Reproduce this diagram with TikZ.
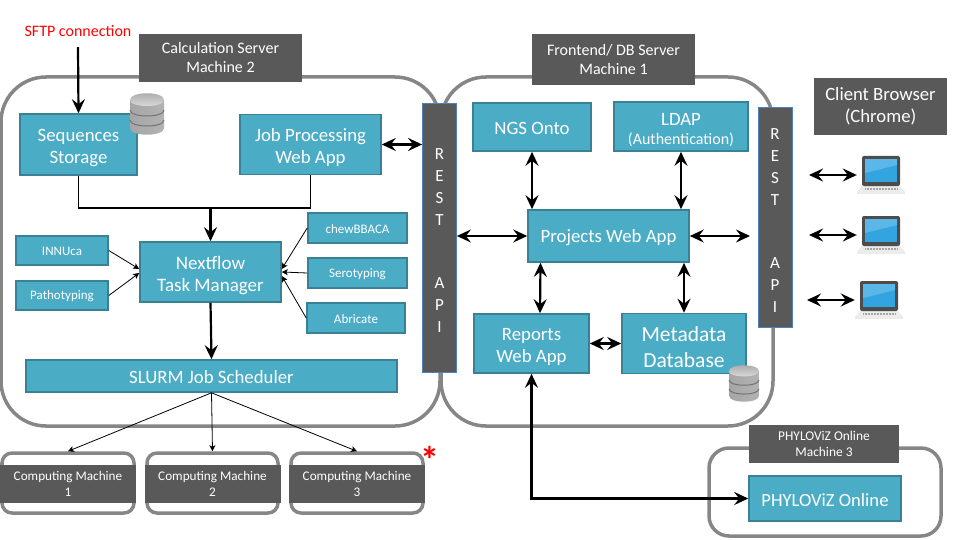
\documentclass[tikz,border=0pt]{standalone}
\usepackage{fontspec}
\setmainfont{Carlito}
\usepackage{xcolor}
\usetikzlibrary{arrows.meta}
\definecolor{boxfill}{RGB}{75,172,198}
\definecolor{boxedge}{RGB}{58,128,150}
\definecolor{labeldark}{RGB}{89,89,89}
\definecolor{frameline}{RGB}{134,134,134}
\definecolor{restedge}{RGB}{79,129,189}
\definecolor{screenblue}{RGB}{50,165,225}
\newcommand{\toplift}{\rule{0pt}{1.05em}}
\tikzset{
  dbstack/.pic={
    \shade [left color=gray!70, middle color=gray!15, right color=gray!60] (-17,-14) -- (-17,14) .. controls (-17,23) and (17,23) .. (17,14) -- (17,-14) -- cycle;
    \foreach \ypos in {-4,6}
      \draw [gray!90!black, line width=1pt] (-17,\ypos) .. controls (-17,\ypos+8) and (17,\ypos+8) .. (17,\ypos);
    \shade [top color=gray!70, bottom color=gray!25] (-17,-14) .. controls (-17,-23) and (17,-23) .. (17,-14) .. controls (17,-6) and (-17,-6) .. (-17,-14) -- cycle;
  },
  laptopicon/.pic={
    \fill [gray!15] (-19,11) -- (19,11) -- (24,17) -- (24,19) -- (-24,19) -- (-24,17) -- cycle;
    \draw [gray!70, line width=1.5pt, dash pattern=on 1pt off 0.5pt] (-16,14) -- (16,14);
    \fill [labeldark!85!black, rounded corners=2pt] (-19,-19) rectangle (19,11);
    \fill [screenblue] (-16,-16) rectangle (16,7);
    \fill [white, opacity=0.2] (-16,-16) -- (16,-16) -- (16,-10) -- (-16,-2) -- cycle;
  }
}
\begin{document}
\begin{tikzpicture}[x=1pt, y=-1pt, node distance=50pt, >=Stealth]
    \tikzstyle{tealbox} = [rectangle, draw=boxedge, fill=boxfill, line width=1.6pt, text=white, align=center, inner sep=0pt, font=\fontsize{18.8}{22}\selectfont, execute at begin node={\rule{0pt}{0.85em}}]
    \tikzstyle{smallbox} = [tealbox, minimum width=98pt, minimum height=29pt, font=\fontsize{13}{16}\selectfont]
    \tikzstyle{darklabel} = [rectangle, fill=labeldark, text=white, align=center, inner sep=0pt, font=\fontsize{16}{19}\selectfont]
    \tikzstyle{restbar} = [rectangle, draw=restedge, fill=labeldark, line width=0.8pt, text=white, align=center, inner sep=0pt, minimum width=34pt, font=\fontsize{17}{22}\selectfont]
    \tikzstyle{frame} = [rectangle, draw=frameline, line width=3.5pt, inner sep=0pt]
    \tikzstyle{heavy} = [<->, >={Stealth[length=14pt,width=13pt,inset=5pt]}, line width=2.2pt]
    \tikzstyle{heavyin} = [->, >={Stealth[length=14pt,width=13pt,inset=5pt]}, line width=2.2pt]
    \tikzstyle{fine} = [->, >={Stealth[length=6pt,width=6pt,inset=1.5pt]}, line width=0.8pt]
    \useasboundingbox (0,0) rectangle (960,540);

    % Machine frames
    \node [frame, rounded corners=45pt, minimum width=439pt, minimum height=349pt] (calc_frame) at (220.5,251.5) {};
    \node [frame, rounded corners=45pt, minimum width=332pt, minimum height=349pt] (front_frame) at (607,251.5) {};
    \node [frame, rounded corners=20pt, minimum width=232pt, minimum height=88pt] (phylo_frame) at (825,492) {};
    \node [frame, rounded corners=10pt, minimum width=132pt, minimum height=60pt] (comp_frame1) at (68,483) {};
    \node [frame, rounded corners=10pt, minimum width=131pt, minimum height=60pt] (comp_frame2) at (212.5,483) {};
    \node [frame, rounded corners=10pt, minimum width=132pt, minimum height=60pt] (comp_frame3) at (357,483) {};

    % Machine labels
    \node [darklabel, minimum width=163pt, minimum height=48pt] (calc_label) at (220.5,58) {Calculation Server\\Machine 2};
    \node [darklabel, minimum width=163pt, minimum height=51pt] (front_label) at (613.5,59.5) {Frontend/ DB Server\\Machine 1};
    \node [darklabel, minimum width=133pt, minimum height=57pt, font=\fontsize{18.7}{22}\selectfont] (client_label) at (880.5,106.5) {Client Browser\\(Chrome)};
    \node [darklabel, minimum width=150pt, minimum height=38pt, font=\fontsize{13.4}{16}\selectfont] (phylo_label) at (824,444) {PHYLOViZ Online\\Machine 3};
    \node [darklabel, minimum width=136pt, minimum height=38pt, font=\fontsize{13.2}{16}\selectfont] (comp_label1) at (68,484) {Computing Machine\\1};
    \node [darklabel, minimum width=136pt, minimum height=38pt, font=\fontsize{13.2}{16}\selectfont] (comp_label2) at (212.5,484) {Computing Machine\\2};
    \node [darklabel, minimum width=136pt, minimum height=38pt, font=\fontsize{13.2}{16}\selectfont] (comp_label3) at (357,484) {Computing Machine\\3};

    % Calculation server
    \node [text=red, font=\fontsize{16}{18}\selectfont] (sftp) at (78,31) {SFTP connection};
    \node [tealbox, minimum width=117pt, minimum height=61pt] (seq_storage) at (78.5,144.5) {\toplift Sequences\\Storage};
    \node [tealbox, minimum width=141pt, minimum height=60pt, right of=seq_storage, xshift=182pt] (job_app) {\toplift Job Processing\\Web App};
    \node [tealbox, minimum width=141pt, minimum height=60pt, font=\fontsize{19}{22}\selectfont] (nextflow) at (210.5,272) {\toplift Nextflow\\Task Manager};
    \node [smallbox, minimum width=92pt] (innuca) at (62,250.5) {INNUca};
    \node [smallbox, minimum width=92pt, below of=innuca, yshift=5pt] (patho) {Pathotyping};
    \node [smallbox, minimum width=99pt, minimum height=30pt] (chewie) at (357.5,228) {chewBBACA};
    \node [smallbox, minimum width=99pt, minimum height=30pt, below of=chewie, yshift=5pt] (sero) {Serotyping};
    \node [smallbox, minimum height=30pt, below of=sero, yshift=5pt, xshift=-1.5pt] (abricate) {Abricate};
    \node [tealbox, minimum width=371pt, minimum height=32pt] (slurm) at (211.5,376) {SLURM Job Scheduler};
    \node [restbar, minimum height=269pt] (rest_calc) at (439.5,237.5) {\toplift R\\E\\S\\T\\[-1.5pt]~\\[-1.5pt]~\\A\\P\\I};

    % Frontend server
    \node [tealbox, minimum width=118pt, minimum height=48pt] (ngs_onto) at (532,127) {NGS Onto};
    \node [tealbox, minimum width=134pt, minimum height=49pt, right of=ngs_onto, xshift=99pt, yshift=0.5pt] (ldap) {\toplift LDAP\\[-3pt]{\fontsize{16}{17}\selectfont (Authentication)}};
    \node [tealbox, minimum width=161pt, minimum height=52pt] (projects) at (608.5,236) {Projects Web App};
    \node [tealbox, minimum width=115pt, minimum height=59pt] (reports) at (531.5,343.5) {\toplift Reports\\Web App};
    \node [tealbox, minimum width=124pt, minimum height=60pt, right of=reports, xshift=102.5pt, font=\fontsize{21.5}{26}\selectfont] (metadata) {\toplift Metadata\\Database};
    \node [restbar, minimum height=220pt] (rest_front) at (775,217) {\toplift R\\E\\S\\T\\[-1.5pt]~\\[-1.5pt]~\\A\\P\\I};
    \node [tealbox, minimum width=152pt, minimum height=45pt, font=\fontsize{18.6}{22}\selectfont] (phyloviz) at (825,498.5) {PHYLOViZ Online};

    % Database icons
    \pic at (147,114) {dbstack};
    \pic [scale=0.88] at (744,383.5) {dbstack};

    % Client laptops
    \node [minimum width=48pt, minimum height=38pt, inner sep=0pt] (laptop1) at (881,175) {};
    \node [minimum width=48pt, minimum height=38pt, inner sep=0pt] (laptop2) at (881,235) {};
    \node [minimum width=48pt, minimum height=38pt, inner sep=0pt] (laptop3) at (879,300) {};
    \pic at (laptop1) {laptopicon};
    \pic at (laptop2) {laptopicon};
    \pic at (laptop3) {laptopicon};
    \coordinate (client1) at (809,175);
    \coordinate (client2) at (809,235);
    \coordinate (client3) at (807,300);
    \coordinate (rest_in) at (750,236);
    \coordinate (merge) at (210.5,208);

    % Extra machine marker
    \node [text=red, font=\fontsize{38}{38}\bfseries\selectfont, inner sep=0pt] (star) at (430,460) {*};

    % Arrows in the calculation server
    \draw [heavyin] ([yshift=-7pt]sftp.south) -- (seq_storage.north);
    \draw [line width=1.8pt] (seq_storage.south) |- (merge) -| (job_app.south);
    \draw [heavyin] (merge) -- (nextflow.north);
    \draw [heavyin] (nextflow.south) -- (slurm.north);
    \draw [fine] (innuca.east) -- ([yshift=3pt]nextflow.west);
    \draw [fine] (patho.east) -- ([yshift=-1pt]nextflow.west);
    \draw [fine] (chewie.west) -- ([yshift=3pt]nextflow.east);
    \draw [fine] (sero.west) -- (nextflow.east);
    \draw [fine] (abricate.west) -- ([yshift=-4pt]nextflow.east);
    \draw [fine] (slurm.south) -- (comp_frame1.north);
    \draw [fine] (slurm.south) -- (comp_frame2.north);
    \draw [fine] (slurm.south) -- (comp_frame3.north);
    \draw [heavy] (job_app.east) -- (job_app.east -| rest_calc.west);

    % Arrows in the frontend server
    \draw [heavy] (projects.west -| rest_calc.east) -- (projects.west);
    \draw [heavy] (projects.east) -- (rest_in);
    \draw [heavy] (ngs_onto.south) -- (ngs_onto.south |- projects.north);
    \draw [heavy] (ldap.south) -- (ldap.south |- projects.north);
    \draw [heavy] ([xshift=-68pt]projects.south) -- ([xshift=8.5pt]reports.north);
    \draw [heavy] ([xshift=75.5pt]projects.south) -- (metadata.north);
    \draw [heavy] (reports.east) -- (metadata.west);
    \draw [heavy] (reports.south) |- (phyloviz.west);

    % Arrows to the clients
    \draw [heavy] (client1) -- (laptop1.west);
    \draw [heavy] (client2) -- (laptop2.west);
    \draw [heavy] (client3) -- (laptop3.west);
\end{tikzpicture}
\end{document}
